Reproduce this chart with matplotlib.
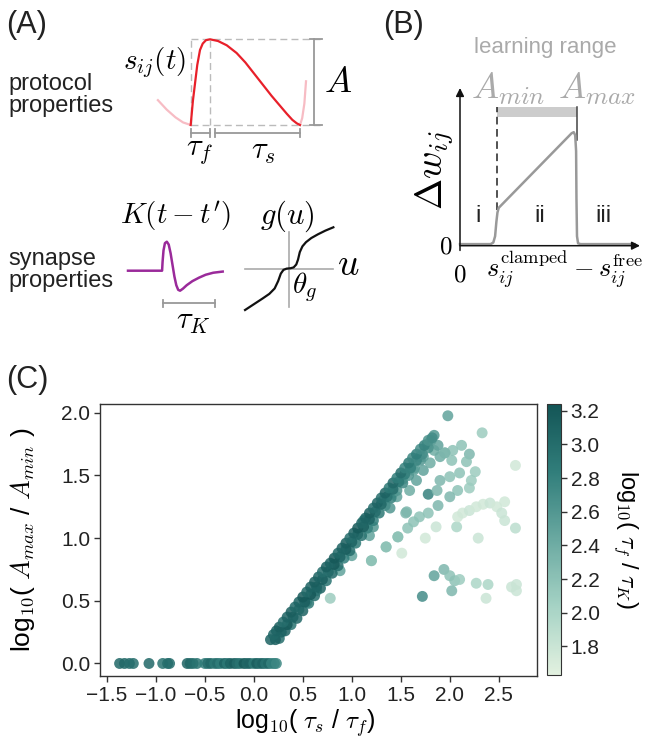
import numpy as np
import matplotlib
matplotlib.use("Agg")
import matplotlib.pyplot as plt
from matplotlib.colors import LinearSegmentedColormap, Normalize
from matplotlib.cm import ScalarMappable

plt.rcParams['font.family'] = ['Liberation Sans', 'DejaVu Sans']
plt.rcParams['mathtext.fontset'] = 'cm'

# ---------------- panel A / B schematic shapes (local units) ----------------
pulse_t = [0.0, 0.02, 0.04, 0.06, 0.085, 0.11, 0.14, 0.177, 0.25, 0.33, 0.42, 0.50,
           0.58, 0.66, 0.74, 0.82, 0.88, 0.93, 0.97, 1.0]
pulse_s = [0.0, 0.28, 0.49, 0.70, 0.875, 0.95, 0.99, 1.0, 0.98, 0.93, 0.84, 0.73,
           0.60, 0.47, 0.34, 0.22, 0.13, 0.06, 0.02, 0.0]
tail_left_t = [-0.30, -0.22, -0.14, -0.07, 0.0]
tail_left_s = [0.29, 0.18, 0.09, 0.03, 0.0]
tail_right_t = [1.0, 1.02, 1.04, 1.055]
tail_right_s = [0.0, 0.08, 0.25, 0.51]
tau_f_frac = 0.177
tau_s_start = 0.222

kernel_x = [0.0, 0.36, 0.365, 0.375, 0.39, 0.41, 0.43, 0.45, 0.47, 0.49, 0.51, 0.53,
            0.55, 0.58, 0.62, 0.68, 0.75, 0.82, 0.90, 1.0]
kernel_y = [0.0, 0.0, 0.3, 0.7, 0.95, 1.0, 0.9, 0.6, 0.2, -0.2, -0.5, -0.66,
            -0.69, -0.62, -0.50, -0.36, -0.24, -0.14, -0.07, -0.03]

g_u = [-1.0, -0.8, -0.6, -0.45, -0.33, -0.25, -0.19, -0.13, -0.06, 0.03, 0.10, 0.16,
       0.20, 0.24, 0.30, 0.38, 0.5, 0.65, 0.82, 1.0]
g_val = [-1.0, -0.86, -0.72, -0.61, -0.48, -0.30, -0.12, -0.03, 0.0, 0.01, 0.03, 0.10,
         0.22, 0.40, 0.54, 0.64, 0.74, 0.83, 0.92, 1.0]

dw_x = [0.0, 0.17, 0.185, 0.195, 0.202, 0.208, 0.215, 0.62, 0.632, 0.640, 0.645,
        0.647, 0.650, 0.656, 0.67, 0.97]
dw_y = [0.01, 0.01, 0.02, 0.06, 0.15, 0.21, 0.24, 0.713, 0.72, 0.70, 0.60,
        0.30, 0.06, 0.015, 0.01, 0.01]
a_min_x = 0.207
a_max_x = 0.648

# ---------------- panel C data ----------------
row0_x = [-1.37, -1.32, -1.27, -1.23, -1.07, -0.93, -0.88, -0.86, -0.68, -0.65, -0.62,
          -0.58, -0.50, -0.47, -0.44, -0.40, -0.37, -0.34, -0.30, -0.27, -0.24, -0.20,
          -0.17, -0.14, -0.10, -0.07, -0.04, 0.0, 0.03, 0.06, 0.09, 0.12, 0.15, 0.18,
          0.21, 0.23]
row0_c = [3.05, 3.05, 3.0, 3.0, 3.05, 2.95, 3.0, 3.0, 3.1, 3.05, 3.0,
          2.95, 2.85, 3.0, 3.05, 2.9, 3.0, 2.85, 3.1, 2.9, 3.1, 3.15,
          3.0, 2.95, 3.2, 3.05, 3.1, 2.9, 3.15, 3.0, 3.1, 2.95, 3.05, 2.8,
          2.85, 2.75]

band_x = [0.17, 0.20, 0.23, 0.26, 0.30, 0.34, 0.38, 0.42, 0.46, 0.50, 0.54, 0.58, 0.62,
          0.66, 0.70, 0.74, 0.78, 0.82, 0.86, 0.90, 0.94, 0.98, 1.02, 1.06, 1.10, 1.14,
          1.18, 1.22, 1.26, 1.30, 1.34, 1.38, 1.42, 1.46, 1.50, 1.54, 1.58, 1.62, 1.66,
          1.70, 1.74, 1.78, 1.82]
band_y = [0.19, 0.23, 0.26, 0.29, 0.33, 0.37, 0.41, 0.45, 0.49, 0.53, 0.57, 0.61, 0.65,
          0.69, 0.73, 0.77, 0.80, 0.84, 0.88, 0.92, 0.96, 1.00, 1.04, 1.08, 1.12, 1.16,
          1.20, 1.24, 1.28, 1.32, 1.36, 1.40, 1.44, 1.48, 1.52, 1.56, 1.60, 1.64, 1.67,
          1.71, 1.74, 1.78, 1.80]
band_c = [3.1, 3.05, 3.1, 3.15, 3.0, 3.1, 3.15, 3.05, 3.1, 3.2, 3.05, 3.1, 3.15,
          3.1, 3.0, 3.15, 3.1, 3.2, 3.05, 3.1, 3.15, 3.0, 3.1, 3.2, 3.05, 3.1,
          3.15, 3.0, 3.1, 3.0, 3.1, 2.9, 3.05, 2.85, 3.0, 2.8, 2.9, 2.75, 2.85,
          2.7, 2.8, 2.65, 2.7]

mid_x = [0.22, 0.28, 0.34, 0.40, 0.46, 0.52, 0.58, 0.64, 0.70, 0.76, 0.82, 0.88, 0.94,
         1.00, 1.06, 1.12, 1.18, 1.24, 1.30, 1.36, 1.42, 1.48, 1.54, 1.60, 1.66, 1.72,
         1.78]
mid_y = [0.19, 0.25, 0.31, 0.37, 0.43, 0.49, 0.55, 0.61, 0.67, 0.73, 0.79, 0.85, 0.91,
         0.97, 1.03, 1.09, 1.15, 1.21, 1.27, 1.33, 1.39, 1.45, 1.51, 1.56, 1.62, 1.67,
         1.72]
mid_c = [3.15, 3.1, 3.2, 3.1, 3.05, 3.15, 3.2, 3.1, 3.15, 3.05, 3.2, 3.1, 3.15,
         3.1, 3.05, 3.15, 3.1, 3.0, 3.05, 2.95, 3.0, 2.9, 2.85, 2.8, 2.75, 2.7,
         2.65]

lower_x = [0.26, 0.32, 0.38, 0.44, 0.50, 0.56, 0.62, 0.68, 0.74, 0.80, 0.86, 0.92, 0.98,
           1.04, 1.10, 1.16, 1.22, 1.28, 1.34, 1.40, 1.46, 1.52, 1.58, 1.64, 1.70]
lower_y = [0.20, 0.26, 0.31, 0.36, 0.42, 0.48, 0.54, 0.60, 0.66, 0.72, 0.78, 0.84, 0.90,
           0.96, 1.02, 1.08, 1.14, 1.20, 1.26, 1.32, 1.38, 1.44, 1.50, 1.56, 1.62]
lower_c = [3.0, 3.1, 2.95, 3.05, 3.1, 2.9, 3.0, 3.1, 2.95, 3.05, 3.0, 2.85, 3.0,
           2.9, 2.95, 2.8, 2.85, 2.9, 2.7, 2.8, 2.6, 2.75, 2.6, 2.55, 2.6]

spread_x = [0.54, 0.64, 0.88, 1.00, 1.18, 1.22, 1.35, 1.20, 1.47, 1.39, 1.46, 1.56,
            1.59, 1.66, 1.73, 1.70, 1.77, 1.84, 1.90, 1.80, 1.63, 1.52, 1.73, 1.81,
            1.88, 1.42, 1.32, 1.12, 1.60, 1.87, 1.95]
spread_y = [0.49, 0.58, 0.74, 0.86, 1.02, 1.09, 0.93, 0.82, 1.01, 1.24, 1.33, 1.21,
            1.38, 1.46, 1.54, 1.65, 1.75, 1.70, 1.65, 1.60, 1.54, 1.47, 1.65, 1.78,
            1.74, 1.36, 1.30, 1.14, 1.56, 1.38, 1.68]
spread_c = [2.6, 2.6, 2.5, 2.5, 2.5, 2.6, 2.2, 2.2, 2.2, 2.6, 2.5, 2.3,
            2.4, 2.5, 2.5, 2.6, 2.6, 2.4, 2.4, 2.4, 2.5, 2.5, 2.5, 2.6,
            2.5, 2.6, 2.7, 2.7, 2.7, 2.3, 2.3]

outer_x = [1.98, 2.33, 2.67, 1.84, 2.12, 2.20, 2.03, 1.95, 2.17, 2.02, 2.26, 2.10,
           2.00, 2.22, 2.20, 2.08, 2.00, 1.90, 1.78, 1.88, 1.78, 1.69, 1.63, 1.57,
           1.55, 1.47, 1.35, 1.20, 0.78, 1.75, 1.86, 1.51, 2.07, 2.29, 2.67, 2.56,
           2.08, 2.13, 2.20, 2.27, 2.34, 2.41, 2.48, 2.53, 2.56,
           1.84, 1.94, 2.00, 2.05, 2.10, 2.02, 2.27, 2.39, 2.37, 2.63, 2.68, 2.68, 1.72]
outer_y = [1.976, 1.84, 1.58, 1.82, 1.74, 1.67, 1.70, 1.68, 1.61, 1.62, 1.53, 1.52,
           1.49, 1.46, 1.40, 1.38, 1.33, 1.46, 1.35, 1.26, 1.20, 1.17, 1.13, 1.08,
           1.20, 1.01, 0.93, 0.82, 0.52, 1.00, 1.09, 0.88, 1.09, 1.00, 1.08, 1.14,
           1.17, 1.20, 1.22, 1.25, 1.27, 1.28, 1.25, 1.20, 1.29,
           0.70, 0.75, 0.70, 0.66, 0.67, 0.58, 0.64, 0.63, 0.52, 0.61, 0.63, 0.58, 0.535]
outer_c = [2.5, 2.1, 1.75, 2.6, 2.2, 2.3, 2.2, 2.3, 2.2, 2.2, 2.1, 2.2,
           2.2, 2.1, 2.1, 2.2, 2.3, 2.3, 2.8, 2.3, 2.2, 2.2, 2.2, 2.2,
           2.3, 2.2, 2.2, 2.2, 2.1, 1.75, 1.8, 1.75, 2.0, 1.8, 1.9, 1.8,
           1.75, 1.75, 1.8, 1.75, 1.75, 1.8, 1.75, 1.8, 1.75,
           2.5, 2.3, 2.2, 2.2, 2.1, 2.3, 2.0, 2.0, 1.8, 1.8, 1.8, 1.8, 2.7]

W, H = 647, 742
fig = plt.figure(figsize=(W / 100, H / 100), dpi=100)

ov = fig.add_axes([0, 0, 1, 1])
ov.set_xlim(0, W)
ov.set_ylim(H, 0)
ov.axis('off')


def sub_axes(ox, oy, sx, sy, xlim, ylim):
    # local origin at pixel (ox, oy), sx/sy pixels per unit
    left = ox + xlim[0] * sx
    right = ox + xlim[1] * sx
    top = oy - ylim[1] * sy
    bottom = oy - ylim[0] * sy
    a = fig.add_axes([left / W, 1 - bottom / H, (right - left) / W, (bottom - top) / H])
    a.set_xlim(*xlim)
    a.set_ylim(*ylim)
    a.axis('off')
    return a


def bracket(a, x0, x1, y, h, color='#999999'):
    a.plot([x0, x1], [y, y], color=color, lw=1.3, clip_on=False)
    for xx in (x0, x1):
        a.plot([xx, xx], [y - h, y + h], color=color, lw=1.3, clip_on=False)


# ---------------- panel A ----------------
ov.text(6, 25, "(A)", fontsize=22, va='center', ha='left', color='#222222')
ov.text(8, 95, "protocol\nproperties", fontsize=17, va='center', ha='left',
        color='#222222', linespacing=0.95)
ov.text(8, 270, "synapse\nproperties", fontsize=17, va='center', ha='left',
        color='#222222', linespacing=0.95)

ap = sub_axes(190.7, 125, 109.3, 85.7, (-0.35, 1.3), (-0.3, 1.1))
dash_kw = dict(color='#bbbbbb', lw=1.0, ls=(0, (5, 3)), clip_on=False)
ap.plot([0, 1.18], [1, 1], **dash_kw)
ap.plot([0, 1.18], [0, 0], **dash_kw)
ap.plot([0, 0], [0, 1], **dash_kw)
ap.plot([tau_f_frac, tau_f_frac], [0, 1], **dash_kw)
ap.plot(tail_left_t, tail_left_s, color='#f7bcc4', lw=1.6, clip_on=False)
ap.plot(tail_right_t, tail_right_s, color='#f7bcc4', lw=1.6, clip_on=False)
ap.plot(pulse_t, pulse_s, color='#e8202a', lw=1.6, clip_on=False)
ap.plot([1.128, 1.128], [0, 1], color='#999999', lw=1.3, clip_on=False)
ap.plot([1.09, 1.20], [1, 1], color='#999999', lw=1.3, clip_on=False)
ap.plot([1.09, 1.20], [0, 0], color='#999999', lw=1.3, clip_on=False)
bracket(ap, 0, tau_f_frac, -0.093, 0.045)
bracket(ap, tau_s_start, 1.0, -0.093, 0.045)

ov.text(155, 63, r"$s_{ij}(t)$", fontsize=21, ha='center', va='center')
ov.text(338, 82, r"$A$", fontsize=26, ha='center', va='center')
ov.text(200, 151, r"$\tau_f$", fontsize=22, ha='center', va='center')
ov.text(263, 151, r"$\tau_s$", fontsize=22, ha='center', va='center')

ak = sub_axes(128, 270.7, 94.7, 29, (-0.05, 1.05), (-1.3, 1.1))
ak.plot(kernel_x, kernel_y, color='#9a2a9a', lw=1.8, clip_on=False)
bracket(ak, 0.37, 0.92, -1.12, 0.12)
ov.text(176, 216, r"$K(t-t')$", fontsize=21, ha='center', va='center')
ov.text(193, 321, r"$\tau_K$", fontsize=22, ha='center', va='center')

ag = sub_axes(289.2, 268.65, 44.15, 41.35, (-1.1, 1.1), (-1.1, 1.1))
ag.plot([-1.0, 1.0], [0, 0], color='#aaaaaa', lw=1.2, clip_on=False)
ag.plot([0, 0], [-0.92, 0.89], color='#aaaaaa', lw=1.2, clip_on=False)
ag.plot(g_u, g_val, color='#111111', lw=1.6, clip_on=False)
ov.text(287, 216, r"$g(u)$", fontsize=22, ha='center', va='center')
ov.text(348, 265, r"$u$", fontsize=27, ha='center', va='center')
ov.text(305, 287, r"$\theta_g$", fontsize=21, ha='center', va='center')

# ---------------- panel B ----------------
ov.text(383, 25, "(B)", fontsize=22, va='center', ha='left', color='#222222')
ov.text(545, 48, "learning range", fontsize=16, ha='center', va='center', color='#aaaaaa')
ov.text(508, 89, r"$A_{min}$", fontsize=26, ha='center', va='center', color='#aaaaaa')
ov.text(597, 89, r"$A_{max}$", fontsize=26, ha='center', va='center', color='#aaaaaa')

ab = sub_axes(460, 245.7, 180, 157.7, (-0.05, 1.05), (-0.15, 1.05))
ab.fill_between([a_min_x, a_max_x], 0.816, 0.88, color='#cccccc', lw=0)
ab.plot([a_min_x, a_min_x], [0.226, 0.88], color='#222222', lw=1.1, ls=(0, (5, 3)))
ab.plot([a_max_x, a_max_x], [0.67, 0.88], color='#444444', lw=1.1)
ab.annotate('', xy=(0, 1.0), xytext=(0, -0.03),
            arrowprops=dict(arrowstyle='-|>', color='#111111', lw=1.1, mutation_scale=12,
                            shrinkA=0, shrinkB=0))
ab.annotate('', xy=(1.0, 0), xytext=(0, 0),
            arrowprops=dict(arrowstyle='-|>', color='#111111', lw=1.1, mutation_scale=12,
                            shrinkA=0, shrinkB=0))
ab.plot(dw_x, dw_y, color='#999999', lw=1.8, clip_on=False)
ov.text(478, 216, "i", fontsize=17, ha='center', va='center', color='#222222')
ov.text(540, 216, "ii", fontsize=17, ha='center', va='center', color='#222222')
ov.text(603, 216, "iii", fontsize=17, ha='center', va='center', color='#222222')
ov.text(435, 170, r"$\Delta w_{ij}$", fontsize=27, ha='center', va='center', rotation=90)
ov.text(446, 247, r"$0$", fontsize=18, ha='center', va='center')
ov.text(460, 275, r"$0$", fontsize=18, ha='center', va='center')
ov.text(564, 269, r"$s_{ij}^{\rm clamped} - s_{ij}^{\rm free}$", fontsize=19,
        ha='center', va='center')

# ---------------- panel C ----------------
ov.text(6, 380, "(C)", fontsize=22, va='center', ha='left', color='#222222')

cmap = LinearSegmentedColormap.from_list(
    'teal', ['#e3f1e0', '#a6d3c5', '#6aa9a1', '#317e7b', '#135556'])
norm = Normalize(vmin=1.63, vmax=3.24)

ax = fig.add_axes([100 / W, 1 - 676 / H, 437 / W, 272 / H])
xs = outer_x + spread_x + row0_x + lower_x + mid_x + band_x
ys = outer_y + spread_y + [0.0] * len(row0_x) + lower_y + mid_y + band_y
cs = outer_c + spread_c + row0_c + lower_c + mid_c + band_c
ax.scatter(xs, ys, c=cs, cmap=cmap, norm=norm, s=62, alpha=0.85, edgecolors='none')
ax.set_xlim(-1.57, 2.89)
ax.set_ylim(-0.10, 2.07)
ax.set_xticks([-1.5, -1.0, -0.5, 0.0, 0.5, 1.0, 1.5, 2.0, 2.5])
ax.set_yticks([0.0, 0.5, 1.0, 1.5, 2.0])
ax.tick_params(direction='out', length=4, width=1, labelsize=15, color='#333333',
               labelcolor='#222222', pad=3)
for sp in ax.spines.values():
    sp.set_color('#333333')
    sp.set_linewidth(1.0)
ax.set_xlabel(r"log$_{\mathsf{10}}$( $\tau_s$ / $\tau_f$)", fontsize=18, va='center')
ax.xaxis.set_label_coords(0.47, -0.175)
ax.set_ylabel(r"log$_{\mathsf{10}}$( $A_{max}$ / $A_{min}$ )", fontsize=19, va='center')
ax.yaxis.set_label_coords(-0.176, 0.5)

cax = fig.add_axes([547 / W, 1 - 675 / H, 14 / W, 271 / H])
cb = fig.colorbar(ScalarMappable(norm=norm, cmap=cmap), cax=cax)
cb.set_ticks([1.8, 2.0, 2.2, 2.4, 2.6, 2.8, 3.0, 3.2])
cb.ax.tick_params(direction='out', length=4, width=1, labelsize=15, color='#333333',
                  labelcolor='#222222', pad=3)
cb.outline.set_edgecolor('#333333')
cb.set_label(r"log$_{\mathsf{10}}$( $\tau_f$ / $\tau_K$)", fontsize=17, rotation=270,
             va='center')
cb.ax.yaxis.set_label_coords(5.6, 0.5)

fig.savefig("out.png", dpi=100)
